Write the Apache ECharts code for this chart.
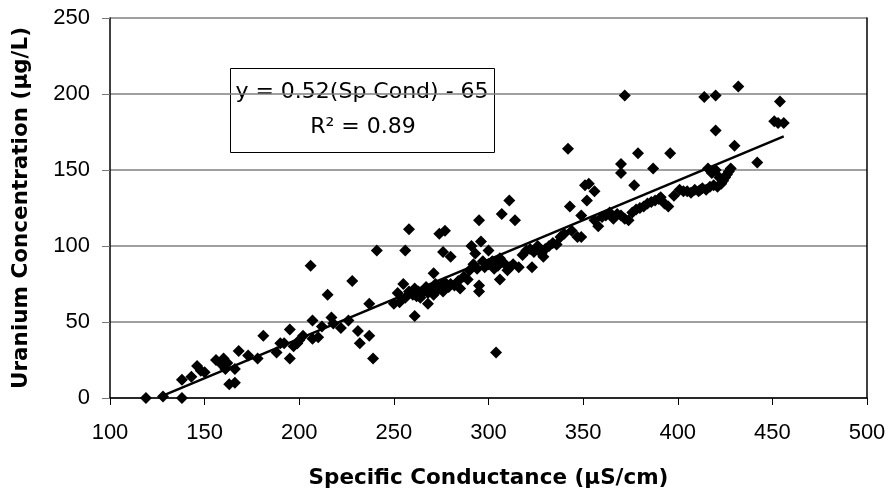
<!DOCTYPE html>
<html>
<head>
<meta charset="utf-8">
<script src="https://cdn.jsdelivr.net/npm/echarts@6/dist/echarts.min.js"></script>
<style>
  html, body { margin: 0; padding: 0; background: #fff; }
  #chart { width: 891px; height: 495px; }
</style>
</head>
<body>
<div id="chart"></div>
<script>
// specific conductance (uS/cm), uranium (ug/L)
let samples = [
    [119, 0], [128, 1], [138, 0], [138, 12], [143, 14], [146, 21], [148, 18], [150, 17],
    [156, 25], [160, 26], [159, 22], [162, 23], [161, 19], [163, 9], [166, 10], [166, 19],
    [168, 31], [173, 28], [178, 26], [181, 41], [188, 30], [190, 36], [192, 36], [195, 45],
    [195, 26], [197, 34], [199, 36], [200, 38], [202, 41], [206, 87], [207, 51], [207, 39],
    [210, 40], [212, 47], [215, 68], [217, 53], [218, 49], [222, 46], [226, 51], [228, 77],
    [231, 44], [232, 36], [237, 41], [237, 62], [239, 26], [241, 97], [250, 62], [252, 69],
    [255, 75], [256, 97], [258, 111], [261, 54], [262, 67], [265, 69], [268, 62], [271, 82],
    [274, 108], [277, 110], [276, 96], [280, 93],
    [253, 63], [256, 66], [258, 70], [260, 68], [261, 72], [263, 70], [264, 66], [266, 71],
    [267, 73], [268, 69], [270, 72], [271, 68], [272, 75], [273, 71], [275, 74], [276, 70],
    [277, 76], [279, 73], [280, 75], [282, 74], [284, 77], [285, 72],
    [287, 80], [289, 78], [290, 84], [291, 100], [292, 88], [293, 95], [294, 85], [295, 117],
    [296, 103], [295, 74], [295, 70], [297, 90], [298, 86], [300, 88], [300, 97], [302, 90],
    [303, 85], [304, 30], [305, 87], [306, 92], [306, 78], [307, 121], [308, 89], [310, 84],
    [311, 130], [311, 86], [313, 88], [314, 117], [316, 86], [318, 94], [320, 97], [322, 98],
    [323, 86], [324, 96], [326, 100], [328, 95], [329, 93], [330, 98], [332, 100], [334, 102],
    [336, 101], [338, 106], [340, 108], [342, 164], [343, 126], [344, 110], [347, 106],
    [349, 106], [349, 120], [351, 140], [352, 130], [353, 141], [356, 136],
    [356, 117], [358, 113], [360, 119], [362, 120], [364, 122], [366, 118], [368, 121],
    [370, 120], [372, 118], [370, 154], [370, 148], [372, 199], [374, 117], [376, 122],
    [377, 140], [378, 124], [379, 161], [380, 125], [382, 126], [384, 128], [386, 129],
    [387, 151], [388, 130], [390, 131], [391, 132], [393, 128], [395, 126], [396, 161],
    [398, 133], [401, 137], [403, 136], [405, 136], [407, 135], [409, 137], [411, 136],
    [412, 137], [413, 138], [414, 198], [415, 137], [417, 139], [419, 140], [420, 199],
    [420, 176], [420, 150], [421, 139], [423, 141], [424, 143], [425, 145], [426, 147],
    [427, 149], [428, 151], [416, 151], [418, 148], [422, 145], [430, 166], [432, 205],
    [442, 155], [451, 182], [453, 181], [454, 195], [456, 181]
];
// fitted line: y = 0.52(Sp Cond) - 65
let fitSlope = 0.52;
let fitIntercept = -65;
let fitRange = [127, 456];
let xTicks = [100, 500, 50];
let yTicks = [0, 250, 50];

let fitLine = fitRange.map(function (x) {
    return [x, fitSlope * x + fitIntercept];
});

let labelFont = 'Liberation Sans, Arial, sans-serif';
let titleFont = 'DejaVu Sans, sans-serif';

let myChart = echarts.init(document.getElementById('chart'), null, {renderer: 'canvas'});
myChart.setOption({
    animation: false,
    backgroundColor: '#fff',
    grid: {left: 110, right: 24, top: 18, bottom: 97, containLabel: false, outerBoundsMode: 'none'},
    xAxis: {
        type: 'value',
        min: xTicks[0],
        max: xTicks[1],
        interval: xTicks[2],
        name: 'Specific Conductance (µS/cm)',
        nameLocation: 'middle',
        nameGap: 69,
        nameTextStyle: {fontFamily: titleFont, fontWeight: 'bold', fontSize: 21.5, color: '#000'},
        axisLine: {show: true, onZero: false, lineStyle: {color: '#000', width: 1.5}},
        axisTick: {show: true, inside: false, length: 7, lineStyle: {color: '#000'}},
        axisLabel: {margin: 24, fontFamily: labelFont, fontSize: 22, color: '#000'},
        splitLine: {show: false}
    },
    yAxis: [{
        type: 'value',
        min: yTicks[0],
        max: yTicks[1],
        interval: yTicks[2],
        name: 'Uranium Concentration (µg/L)',
        nameLocation: 'middle',
        nameGap: 78,
        nameRotate: 90,
        nameTextStyle: {fontFamily: titleFont, fontWeight: 'bold', fontSize: 21.5, color: '#000'},
        axisLine: {show: true, onZero: false, lineStyle: {color: '#000', width: 1.5}},
        axisTick: {show: true, inside: false, length: 8, lineStyle: {color: '#777'}},
        axisLabel: {margin: 20, fontFamily: labelFont, fontSize: 22, color: '#000'},
        splitLine: {show: true, lineStyle: {color: '#808080', width: 1.5}}
    }, {
        // right frame of the plot area
        type: 'value',
        position: 'right',
        min: yTicks[0],
        max: yTicks[1],
        interval: yTicks[2],
        axisLine: {show: true, onZero: false, lineStyle: {color: '#000', width: 1.5}},
        axisTick: {show: false},
        axisLabel: {show: false},
        splitLine: {show: false}
    }],
    series: [{
        name: 'samples',
        type: 'scatter',
        symbol: 'diamond',
        symbolSize: 12,
        itemStyle: {color: '#000', opacity: 1},
        data: samples,
        z: 3
    }, {
        name: 'fit',
        type: 'line',
        data: fitLine,
        symbol: 'none',
        lineStyle: {color: '#000', width: 2.5, opacity: 1},
        z: 4
    }],
    graphic: [{
        type: 'group',
        z: 100,
        children: [{
            type: 'rect',
            shape: {x: 230.5, y: 68.5, width: 264, height: 84},
            style: {fill: '#fff', stroke: '#000', lineWidth: 1}
        }, {
            type: 'text',
            x: 362,
            y: 92,
            style: {
                text: 'y = 0.52(Sp Cond) - 65',
                fontFamily: titleFont,
                fontSize: 22,
                fill: '#000',
                align: 'center',
                verticalAlign: 'middle'
            }
        }, {
            type: 'text',
            x: 363,
            y: 127,
            style: {
                text: 'R² = 0.89',
                fontFamily: titleFont,
                fontSize: 22,
                fill: '#000',
                align: 'center',
                verticalAlign: 'middle'
            }
        }]
    }]
});
</script>
</body>
</html>
